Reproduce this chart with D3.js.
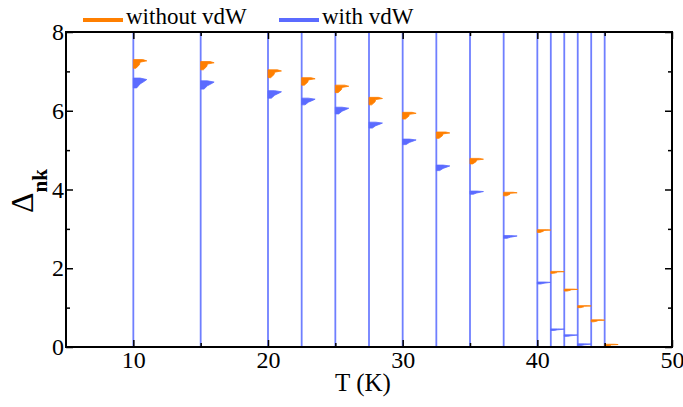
<!DOCTYPE html>
<html><head><meta charset="utf-8">
<script src="https://cdn.jsdelivr.net/npm/d3@7"></script>
</head><body style="margin:0">
<svg id="chart" width="683" height="407"></svg>
<script>
// ---- data ----
const temps = [10, 15, 20, 22.5, 25, 27.5, 30, 32.5, 35, 37.5, 40, 41, 42, 43, 44, 45];
// without vdW: top and bottom of each distribution (Δnk)
const woTop    = [7.30, 7.25, 7.04, 6.84, 6.65, 6.34, 5.96, 5.46, 4.79, 3.93, 2.98, 1.92, 1.47, 1.05, 0.69, 0.07];
const woBottom = [7.08, 7.04, 6.84, 6.65, 6.46, 6.15, 5.79, 5.30, 4.65, 3.84, 2.91, 1.87, 1.42, 1.00, 0.64, 0.02];
// with vdW
const wTop     = [6.83, 6.76, 6.51, 6.32, 6.09, 5.71, 5.28, 4.62, 3.96, 2.83, 1.65, 0.46, 0.31, 0.08, 0.01, 0.0];
const wBottom  = [6.58, 6.55, 6.32, 6.15, 5.92, 5.56, 5.14, 4.48, 3.88, 2.76, 1.60, 0.42, 0.27, 0.04, 0.0, 0.0];
// relative density profile from top (0) to bottom (1) of each distribution
const profilePos   = [0, 0.15, 0.3, 0.6, 1];
const woDensity    = [0.7, 1.0, 0.5, 0.45, 0.2];
const wDensity     = [0.5, 1.0, 0.85, 0.5, 0.25];
const histWidth = 1.0; // K
const xTicks = [10, 20, 30, 40, 50];
const xMinorTicks = [15, 25, 35, 45];
const yTicks = [0, 2, 4, 6, 8];
const yMinorTicks = [1, 3, 5, 7];
const seriesNames = ["without vdW", "with vdW"];
const orange = "#ff7f00", blue = "#5b6bff", blueLine = "#6f7fff";

// ---- layout ----
const svg = d3.select("#chart");
const L = 66, R = 672, T = 32, B = 347;
const x = d3.scaleLinear().domain([5, 50]).range([L, R]);
const y = d3.scaleLinear().domain([0, 8]).range([B, T]);
const FONT = "Liberation Serif";

// vertical lines
svg.append("g").selectAll("line").data(temps).join("line")
  .attr("x1", d => x(d)).attr("x2", d => x(d))
  .attr("y1", y(8)).attr("y2", y(0))
  .attr("stroke", blueLine).attr("stroke-width", 1.8);

const line = d3.line().x(d => x(d[0])).y(d => y(d[1]));
function shape(t, top, bot, dens) {
  const pts = [[t, top]];
  profilePos.forEach((p, i) => pts.push([t + histWidth * dens[i], top - (top - bot) * p]));
  pts.push([t, bot]);
  return pts;
}
function drawSeries(tops, bots, dens, color) {
  svg.append("g").selectAll("path").data(temps).join("path")
    .attr("d", (t, i) => line(shape(t, tops[i], bots[i], dens)) + "Z")
    .attr("fill", color).attr("stroke", color).attr("stroke-width", 0.8)
    .attr("stroke-linejoin", "round");
}
drawSeries(woTop, woBottom, woDensity, orange);
drawSeries(wTop, wBottom, wDensity, blue);

// axes (ticks inside, mirrored)
const ax = svg.append("g");
const bottomAxis = d3.axisBottom(x).tickValues(xTicks).tickSize(-7).tickPadding(0).tickFormat(d3.format("d"));
const gB = ax.append("g").attr("transform", `translate(0,${B})`).call(bottomAxis);
gB.selectAll("text").attr("dy", null).attr("y", 21);
ax.append("g").attr("transform", `translate(0,${B})`).call(d3.axisBottom(x).tickValues(xMinorTicks).tickSize(-4).tickFormat(""));
ax.append("g").attr("transform", `translate(0,${T})`).call(d3.axisTop(x).tickValues(xTicks).tickSize(-7).tickFormat(""));
ax.append("g").attr("transform", `translate(0,${T})`).call(d3.axisTop(x).tickValues(xMinorTicks).tickSize(-4).tickFormat(""));
const gL = ax.append("g").attr("transform", `translate(${L},0)`).call(d3.axisLeft(y).tickValues(yTicks).tickSize(-7).tickPadding(2).tickFormat(d3.format("d")));
ax.append("g").attr("transform", `translate(${L},0)`).call(d3.axisLeft(y).tickValues(yMinorTicks).tickSize(-4).tickFormat(""));
ax.append("g").attr("transform", `translate(${R},0)`).call(d3.axisRight(y).tickValues(yTicks).tickSize(-7).tickFormat(""));
ax.append("g").attr("transform", `translate(${R},0)`).call(d3.axisRight(y).tickValues(yMinorTicks).tickSize(-4).tickFormat(""));
ax.selectAll(".domain").remove();
ax.selectAll(".tick line").attr("stroke", "#000").attr("stroke-width", 1.5);
ax.selectAll("text").attr("font-size", 24).attr("fill", "#000");
gL.selectAll("text").attr("x", -2);
svg.append("rect").attr("x", L).attr("y", T).attr("width", R - L).attr("height", B - T)
  .attr("fill", "none").attr("stroke", "#000").attr("stroke-width", 2);

// axis labels
svg.append("text").attr("x", (L + R) / 2 - 6).attr("y", 391).attr("text-anchor", "middle")
  .attr("font-size", 25).text("T (K)");
const yl = svg.append("text").attr("transform", "translate(33,213) rotate(-90)");
yl.append("tspan").attr("font-size", 32).text("Δ");
yl.append("tspan").attr("font-size", 21).attr("font-weight", "bold").attr("dy", 14).text("nk");

// legend
const legend = [{name: seriesNames[0], color: orange, x0: 83}, {name: seriesNames[1], color: blue, x0: 279}];
const lg = svg.append("g").selectAll("g").data(legend).join("g");
lg.append("line").attr("x1", d => d.x0).attr("x2", d => d.x0 + 40).attr("y1", 20).attr("y2", 20)
  .attr("stroke", d => d.color).attr("stroke-width", 4);
lg.append("text").attr("x", d => d.x0 + 43).attr("y", 24).attr("font-size", 23)
  .text(d => d.name);

// font on every text, as inline important style
svg.selectAll("text, tspan").attr("font-family", FONT).style("font-family", FONT, "important");
svg.selectAll("g").attr("font-family", FONT);
</script>
</body></html>
